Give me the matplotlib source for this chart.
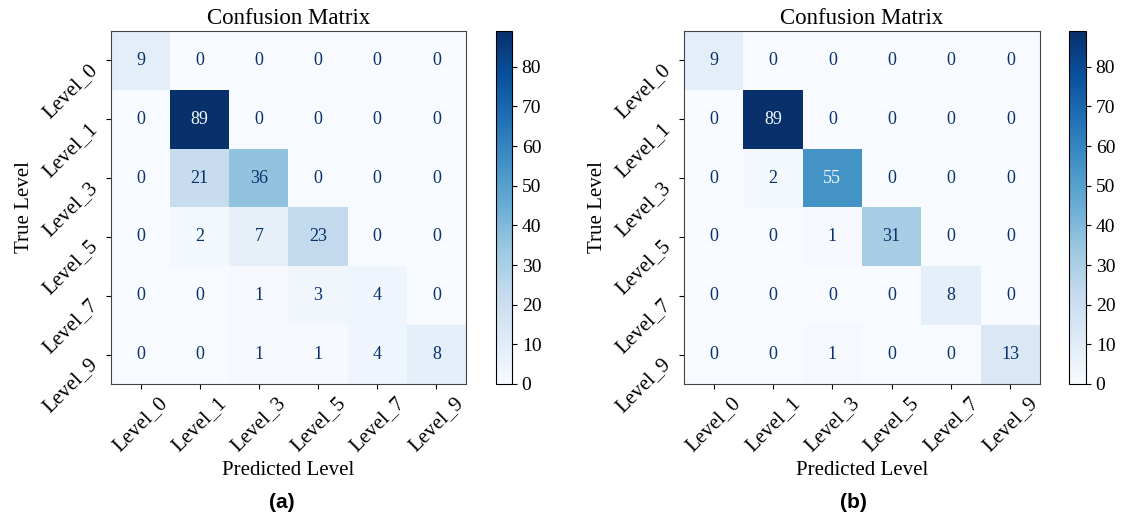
import numpy as np
from matplotlib import pyplot as plt

labels = ['Level_0', 'Level_1', 'Level_3', 'Level_5', 'Level_7', 'Level_9']

cm_a = [[9, 0, 0, 0, 0, 0],
        [0, 89, 0, 0, 0, 0],
        [0, 21, 36, 0, 0, 0],
        [0, 2, 7, 23, 0, 0],
        [0, 0, 1, 3, 4, 0],
        [0, 0, 1, 1, 4, 8]]

cm_b = [[9, 0, 0, 0, 0, 0],
        [0, 89, 0, 0, 0, 0],
        [0, 2, 55, 0, 0, 0],
        [0, 0, 1, 31, 0, 0],
        [0, 0, 0, 0, 8, 0],
        [0, 0, 1, 0, 0, 13]]

panel_tags = ['(a)', '(b)']

plt.rcParams['font.family'] = ['Liberation Serif', 'DejaVu Serif']

W, H = 1128, 529
fig = plt.figure(figsize=(W / 100, H / 100), dpi=100)

# pixel boxes: axes left, right, colorbar left, right, tag x
boxes = [(111, 466, 496, 512, 282), (684, 1040, 1069, 1086, 853)]
top, bottom = 31, 384


def draw(cm, box, tag):
    cm = np.array(cm)
    l, r, cl, cr, tx = box
    ax = fig.add_axes([l / W, 1 - bottom / H, (r - l) / W, (bottom - top) / H])
    cax = fig.add_axes([cl / W, 1 - bottom / H, (cr - cl) / W, (bottom - top) / H])
    cmap = plt.get_cmap('Blues')
    im = ax.imshow(cm, cmap=cmap, vmin=0, vmax=cm.max(), aspect='auto')
    thresh = cm.max() / 2.0
    for i in range(cm.shape[0]):
        for j in range(cm.shape[1]):
            c = cmap(0.0) if cm[i, j] > thresh else cmap(1.0)
            ax.text(j, i, str(cm[i, j]), ha='center', va='center', color=c, fontsize=13)
    ax.set_xticks(range(len(labels)))
    ax.set_yticks(range(len(labels)))
    ax.set_xticklabels(labels, rotation=45, ha='center', fontsize=15)
    ax.set_yticklabels(labels, rotation=45, ha='right', va='top', fontsize=15)
    ax.set_xlabel('Predicted Level', fontsize=15)
    ax.set_ylabel('True Level', fontsize=15)
    ax.set_title('Confusion Matrix', fontsize=16.5, pad=5)
    for s in ax.spines.values():
        s.set_color('#444444')
    cb = fig.colorbar(im, cax=cax)
    cb.set_ticks(range(0, 90, 10))
    cb.ax.tick_params(labelsize=14)
    fig.text(tx / W, 1 - 502 / H, tag, ha='center', va='center', fontsize=15,
             fontweight='bold', family=['Liberation Sans', 'DejaVu Sans'])


for cm, box, tag in zip([cm_a, cm_b], boxes, panel_tags):
    draw(cm, box, tag)

fig.savefig('out.png', dpi=100)
